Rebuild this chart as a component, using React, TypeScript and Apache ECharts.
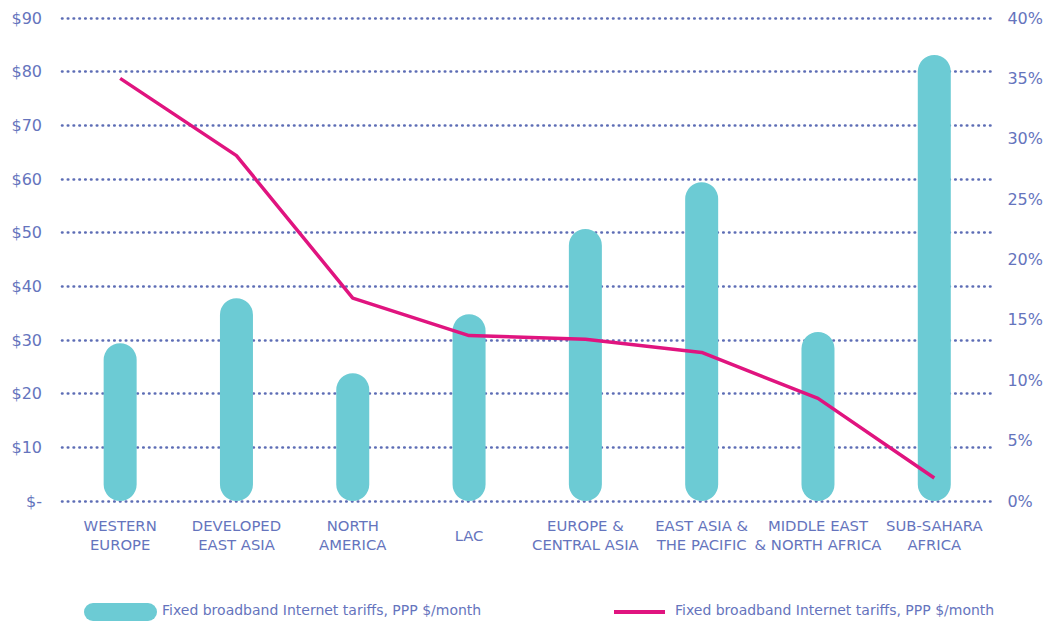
import React, { useEffect, useRef } from "react";
import * as echarts from "echarts";

const categories = [
  "WESTERN\nEUROPE",
  "DEVELOPED\nEAST ASIA",
  "NORTH\nAMERICA",
  "LAC",
  "EUROPE &\nCENTRAL ASIA",
  "EAST ASIA &\nTHE PACIFIC",
  "MIDDLE EAST\n& NORTH AFRICA",
  "SUB-SAHARA\nAFRICA",
];
const tariffValues = [29.4, 37.8, 23.8, 34.8, 50.7, 59.4, 31.5, 83.1];
const tariffShare = [35.0, 28.6, 16.8, 13.7, 13.4, 12.3, 8.5, 1.9];
const seriesName = "Fixed broadband Internet tariffs, PPP $/month";

const TEXT = "#6574bd";
const GRID = "#5d6db5";
const BAR = "#6ccbd4";
const LINE = "#e0147f";
const FONT = "DejaVu Sans";

export default function App() {
  const ref = useRef<HTMLDivElement>(null);
  useEffect(() => {
    const chart = echarts.init(ref.current!, null, { renderer: "svg" });
    chart.setOption({
      animation: false,
      textStyle: { fontFamily: FONT },
      grid: { left: 62, right: 53, top: 18, bottom: 122, containLabel: false },
      xAxis: {
        type: "category",
        data: categories,
        axisLine: { show: false },
        axisTick: { show: false },
        axisLabel: {
          color: TEXT,
          fontSize: 14.8,
          lineHeight: 19,
          margin: 34,
          verticalAlign: "middle",
          interval: 0,
          fontFamily: FONT,
        },
      },
      yAxis: [
        {
          type: "value",
          min: 0,
          max: 90,
          interval: 10,
          axisLine: { show: false },
          axisTick: { show: false },
          axisLabel: {
            color: TEXT,
            fontSize: 16,
            margin: 20,
            fontFamily: FONT,
            formatter: (v: number) => (v === 0 ? "$-" : "$" + v),
          },
          splitLine: {
            show: true,
            lineStyle: { color: GRID, type: [0.5, 5.3], cap: "round", width: 2.6 },
          },
        },
        {
          type: "value",
          min: 0,
          max: 40,
          interval: 5,
          axisLine: { show: false },
          axisTick: { show: false },
          splitLine: { show: false },
          axisLabel: {
            color: TEXT,
            fontSize: 16,
            margin: 15,
            fontFamily: FONT,
            formatter: "{value}%",
          },
        },
      ],
      series: [
        {
          name: seriesName,
          type: "bar",
          data: tariffValues,
          barWidth: 33,
          itemStyle: { color: BAR, borderRadius: 16.5 },
          yAxisIndex: 0,
        },
        {
          name: seriesName + " ",
          type: "line",
          data: tariffShare,
          yAxisIndex: 1,
          symbol: "none",
          lineStyle: { color: LINE, width: 3.5 },
          itemStyle: { color: LINE },
        },
      ],
      graphic: [
        {
          type: "rect",
          left: 84,
          top: 603,
          shape: { width: 73, height: 18, r: 9 },
          style: { fill: BAR },
        },
        {
          type: "text",
          left: 162,
          top: 603,
          style: { text: seriesName, fill: TEXT, font: `14px '${FONT}'` },
        },
        {
          type: "line",
          shape: { x1: 614, y1: 612, x2: 665, y2: 612 },
          style: { stroke: LINE, lineWidth: 4 },
        },
        {
          type: "text",
          left: 675,
          top: 603,
          style: { text: seriesName, fill: TEXT, font: `14px '${FONT}'` },
        },
      ],
    });
    return () => chart.dispose();
  }, []);
  return (
    <div
      ref={ref}
      style={{ position: "fixed", left: 0, top: 0, width: 1046, height: 623, background: "#fff" }}
    />
  );
}
